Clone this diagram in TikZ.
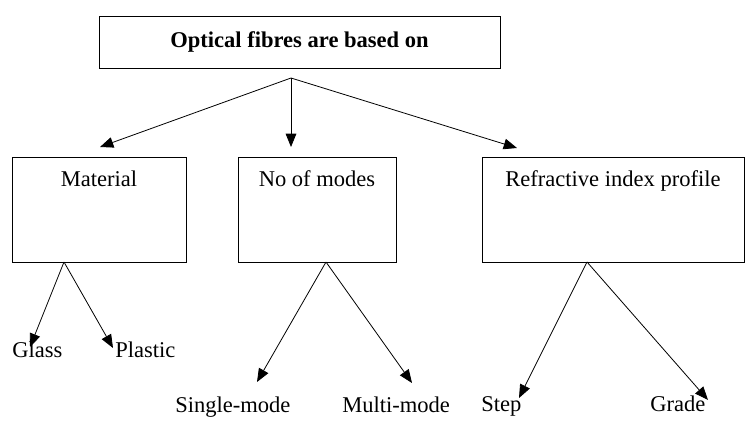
\documentclass[tikz,border=0pt]{standalone}
\usepackage{fontspec}
\setmainfont{Liberation Serif}
\usetikzlibrary{arrows.meta,positioning}

\begin{document}
\begin{tikzpicture}[x=0.75pt, y=-0.75pt,
  box/.style={draw, line width=0.6pt, inner sep=0pt},
  cattext/.style={anchor=base, yshift=-22.5pt, font=\fontsize{16.9}{20}\selectfont},
  leaf/.style={anchor=base west, inner sep=0pt, font=\fontsize{16.9}{20}\selectfont},
  arr/.style={line width=0.6pt, -{Triangle[length=10pt,width=8pt]}}]
\useasboundingbox (0,0) rectangle (755,421);
% Top box
\node[box, minimum width=300.75pt, minimum height=39pt,
  font=\fontsize{16.9}{20}\selectfont\bfseries] (top) at (299.5,42) {Optical fibres are based on};
% Category boxes
\node[box, minimum width=130.5pt, minimum height=78.75pt,
  label={[cattext]north:Material}] (mat) at (99,209.5) {};
\node[box, minimum width=118.5pt, minimum height=78.75pt,
  label={[cattext]north:No of modes}] (modes) at (317,209.5) {};
\node[box, minimum width=196.5pt, minimum height=78.75pt,
  label={[cattext]north:Refractive index profile}] (refr) at (613,209.5) {};
% Arrows from top
\coordinate (split) at (291,78);
\coordinate (tmat) at (100,147);
\coordinate (tmodes) at (291,147);
\coordinate (trefr) at (517,148);
\foreach \t in {tmat, tmodes, trefr}
  \draw[arr] (split) -- (\t);
% Leaves
\node[leaf] (glass) at (12,357) {Glass};
\node[leaf] (plastic) at (115,357) {Plastic};
\node[leaf] (single) at (175,412) {Single-mode};
\node[leaf] (multi) at (342,412) {Multi-mode};
\node[leaf] (step) at (481,411) {Step};
\node[leaf] (grade) at (650,411) {Grade};
% Arrows to leaves
\coordinate (omat) at (64,262);
\coordinate (omodes) at (326,262);
\coordinate (orefr) at (587,262);
\coordinate (tglass) at (30,347);
\coordinate (tplastic) at (113,348);
\coordinate (tsingle) at (257,382);
\coordinate (tmulti) at (412,383);
\coordinate (tstep) at (519,398);
\coordinate (tgrade) at (708,400);
\foreach \o/\t in {omat/tglass, omat/tplastic, omodes/tsingle, omodes/tmulti, orefr/tstep, orefr/tgrade}
  \draw[arr] (\o) -- (\t);
\end{tikzpicture}
\end{document}
